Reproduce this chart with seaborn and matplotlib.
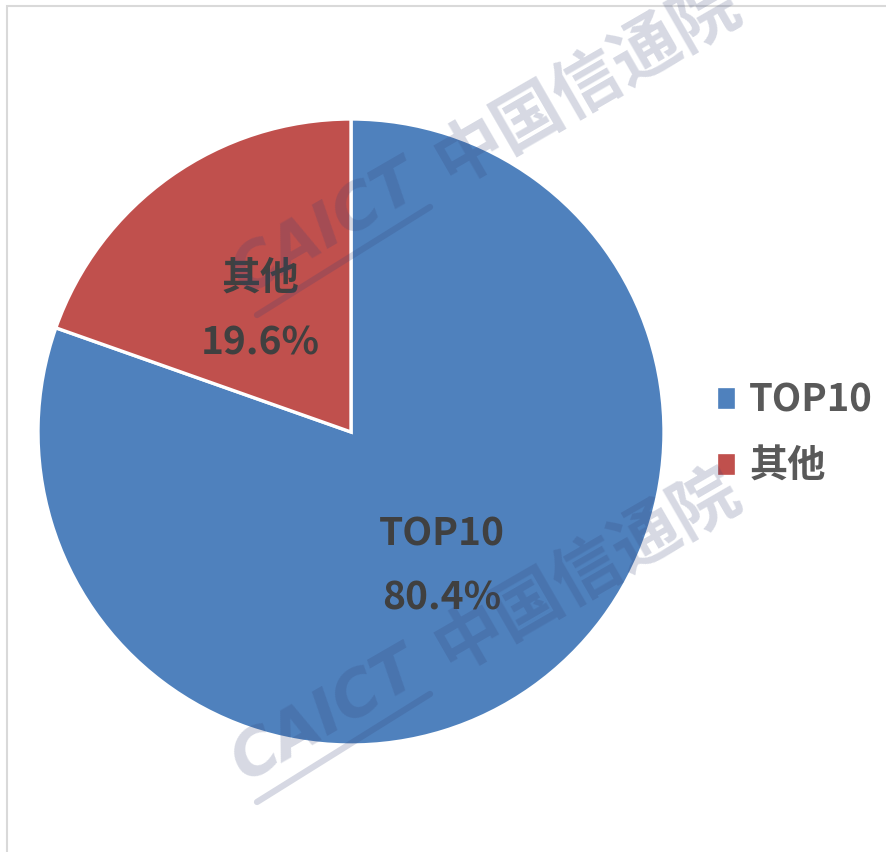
import numpy as np
import seaborn as sns
import matplotlib.pyplot as plt
from matplotlib.lines import Line2D
from matplotlib.patches import Rectangle

categories = ['TOP10', '其他']
shares = [80.4, 19.6]
slice_colors = ['#4F81BD', '#C0504D']

sns.set_theme(style='white')
plt.rcParams['font.family'] = ['Noto Sans CJK SC', 'DejaVu Sans']

W, H = 887, 852
fig = plt.figure(figsize=(W / 100, H / 100), dpi=100)
fig.patch.set_facecolor('white')

# pie centre and radius in pixels (from top-left)
cx, cy, R = 351, 432, 313
ax = fig.add_axes([(cx - R) / W, (H - cy - R) / H, 2 * R / W, 2 * R / H])

wedges, _ = ax.pie(shares, colors=slice_colors, startangle=90, counterclock=False,
                   wedgeprops=dict(edgecolor='white', linewidth=2.4))
for w in wedges:
    w.set_clip_on(False)
ax.set_xlim(-1, 1)
ax.set_ylim(-1, 1)
ax.axis('off')

# slice labels: name above, percentage below
for w, name, val in zip(wedges, categories, shares):
    mid = np.deg2rad((w.theta1 + w.theta2) / 2)
    x, y = 0.5 * np.cos(mid), 0.5 * np.sin(mid) - 0.02
    ax.text(x, y + 0.103, name, ha='center', va='center', fontsize=28,
            fontweight='bold', color='#404040')
    ax.text(x, y - 0.103, f'{val:.1f}%', ha='center', va='center', fontsize=28,
            fontweight='bold', color='#404040')

leg = fig.legend(wedges, categories, loc='center left',
                 bbox_to_anchor=(716 / W, 1 - 433 / H), frameon=False,
                 fontsize=27.5, handlelength=0.52, handleheight=0.6,
                 handletextpad=0.35, labelspacing=0.72, borderpad=0, borderaxespad=0)
for t in leg.get_texts():
    t.set_color('#595959')
    t.set_fontweight('bold')

# watermark
ang = 30
wm_col = (0.2, 0.25, 0.45)
wm_kw = dict(rotation=ang, rotation_mode='anchor', ha='left', va='baseline',
             color=wm_col, alpha=0.2, zorder=10)
for dy in [0, -487]:
    fig.text(245 / W, 1 - (782 + dy) / H, 'CAICT', fontsize=45, fontweight='bold',
             fontstyle='italic', family=['DejaVu Sans'], **wm_kw)
    fig.text(450 / W, 1 - (673 + dy) / H, '中国信通院', fontsize=49,
             fontweight='bold', **wm_kw)
    fig.add_artist(Line2D([257 / W, 430 / W], [1 - (802 + dy) / H, 1 - (694 + dy) / H],
                          transform=fig.transFigure, color=wm_col,
                          alpha=0.2, lw=4.5, zorder=10))

# outer frame (right/bottom edges fall outside the picture)
fig.add_artist(Rectangle((7 / W, -0.1), 1.2, 1.1 - 6 / H, transform=fig.transFigure,
                         fill=False, edgecolor='#d9d9d9', lw=1.5, zorder=0))

fig.savefig('out.png', dpi=100)
